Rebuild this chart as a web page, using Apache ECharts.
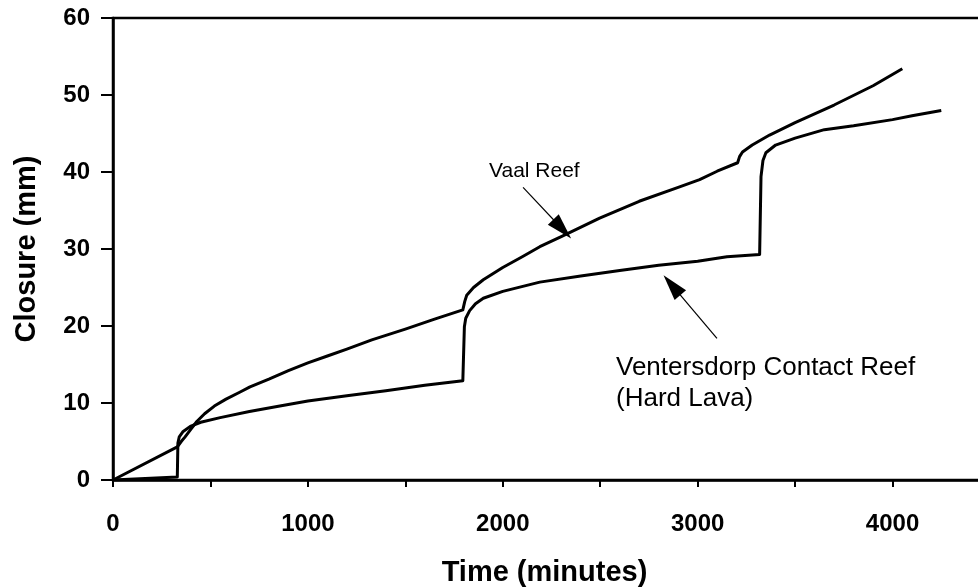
<!DOCTYPE html>
<html><head><meta charset="utf-8">
<script src="https://cdn.jsdelivr.net/npm/echarts@6/dist/echarts.min.js"></script>
<style>html,body{margin:0;padding:0;background:#fff}#c{width:978px;height:588px}</style>
</head><body><div id="c"></div>
<script>
const vaalTime = [0,330,350,370,400,430,470,520,580,650,703,800,900,1000,1100,1200,1328,1500,1650,1795,1805,1815,1850,1900,2000,2100,2190,2300,2497,2700,2900,3010,3100,3205,3215,3230,3280,3369,3500,3700,3900,4050];
const vaalClosure = [0,4.3,5.0,5.6,6.6,7.6,8.6,9.6,10.5,11.4,12.1,13.1,14.2,15.2,16.1,17.0,18.2,19.6,20.9,22.1,23.2,24.0,25.0,26.0,27.6,29.0,30.3,31.6,34.0,36.2,38.0,39.0,40.1,41.2,42.0,42.6,43.5,44.8,46.4,48.7,51.2,53.4];
const vcrTime = [0,330,333,340,360,400,450,550,700,856,1000,1200,1400,1600,1795,1803,1810,1830,1860,1900,2000,2190,2400,2600,2800,3000,3150,3318,3325,3335,3350,3400,3500,3650,3800,4000,4100,4250];
const vcrClosure = [0,0.4,4.8,5.6,6.3,7.0,7.5,8.1,8.9,9.6,10.25,10.95,11.6,12.3,12.9,19.9,21.0,22.0,22.9,23.6,24.5,25.7,26.5,27.2,27.9,28.4,29.0,29.3,39.4,41.5,42.5,43.5,44.4,45.5,46.0,46.8,47.3,48.0];
const xTicks = [0,1000,2000,3000,4000];
const yTicks = [0,10,20,30,40,50,60];
const vaalArrow = [[2104,38.0],[2305,32.6]];
const vcrArrow = [[3099,18.4],[2868,25.3]];

const chart = echarts.init(document.getElementById('c'));
const pair = (t,c)=>t.map((v,i)=>[v,c[i]]);
const lbl = {fontFamily:'Liberation Sans, Arial, sans-serif', fontWeight:'bold', fontSize:24, color:'#000'};
chart.setOption({
  animation:false,
  grid:{left:113, top:18, width:877, height:462, show:true, borderColor:'#000', borderWidth:2.5, containLabel:false, outerBoundsMode:'none'},
  xAxis:{type:'value', min:0, max:4500, interval:500,
    axisLine:{lineStyle:{color:'#000', width:2.5}},
    axisTick:{length:7, lineStyle:{color:'#000', width:2}},
    splitLine:{show:false},
    axisLabel:Object.assign({}, lbl, {margin:32, formatter:v=>xTicks.includes(v)?String(v):'', showMaxLabel:false}),
    name:'Time (minutes)', nameLocation:'middle', nameGap:78,
    nameTextStyle:Object.assign({}, lbl, {fontSize:29, padding:[0,14,0,0]})
  },
  yAxis:{type:'value', min:0, max:60, interval:10,
    axisLine:{lineStyle:{color:'#000', width:2.5}},
    axisTick:{length:12, lineStyle:{color:'#000', width:2}},
    splitLine:{show:false},
    axisLabel:Object.assign({}, lbl, {margin:23, formatter:v=>yTicks.includes(v)?String(v):''}),
    name:'Closure (mm)', nameLocation:'middle', nameGap:72, nameRotate:90,
    nameTextStyle:Object.assign({}, lbl, {fontSize:29})
  },
  series:[
    {type:'line', data:pair(vaalTime,vaalClosure), showSymbol:false, lineStyle:{color:'#000', width:3, join:'round'},
     markLine:{silent:true, symbol:['none','triangle'], symbolSize:[15,26],
       lineStyle:{color:'#000', width:1.2, type:'solid'}, label:{show:false},
       data:[[{coord:vaalArrow[0]},{coord:vaalArrow[1]}],[{coord:vcrArrow[0]},{coord:vcrArrow[1]}]]}},
    {type:'line', data:pair(vcrTime,vcrClosure), showSymbol:false, lineStyle:{color:'#000', width:3, join:'round'}}
  ],
  graphic:[
    {type:'text', left:489, top:161, style:{text:'Vaal Reef', font:'21px "Liberation Sans", Arial, sans-serif', fill:'#000'}},
    {type:'text', left:616, top:352, style:{text:'Ventersdorp Contact Reef\n(Hard Lava)', font:'26px "Liberation Sans", Arial, sans-serif', fill:'#000', lineHeight:31}}
  ]
});
</script></body></html>
